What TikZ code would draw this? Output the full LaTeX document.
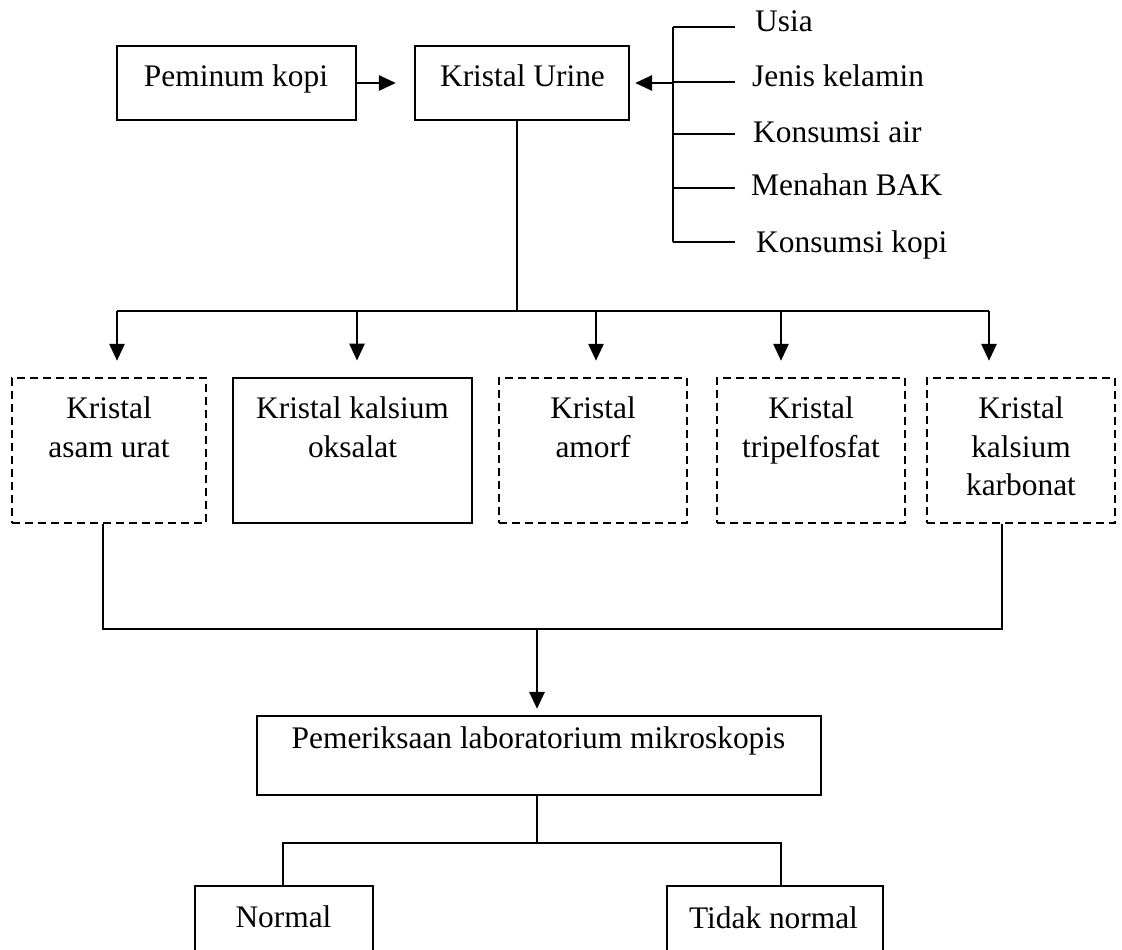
\documentclass[tikz,border=0pt]{standalone}
\usepackage{fontspec}
\setmainfont{Liberation Serif}
\usetikzlibrary{arrows.meta}
\begin{document}
\begin{tikzpicture}[x=1pt,y=-1pt,
  font=\fontsize{31.4}{38.5}\selectfont,
  box/.style={draw, line width=2.2pt, inner sep=0pt},
  dbox/.style={draw, line width=2.4pt, dash pattern=on 8pt off 5pt, inner sep=0pt},
  sbox/.style={draw, line width=2.8pt, inner sep=0pt},
  txt/.style={inner sep=0pt, align=center},
  thinline/.style={line width=1.4pt},
  arr/.style={line width=2.8pt, -{Triangle[length=17pt,width=15pt]}},
]
\useasboundingbox (0,0) rectangle (1122,950);
\clip (0,0) rectangle (1122,950);

% top row
\node[box, minimum width=239pt, minimum height=74pt] (pk) at (236.5,83) {};
\node[txt, anchor=base] (pkt) at (236,87) {Peminum kopi};
\node[box, minimum width=214pt, minimum height=74pt] (ku) at (522,83) {};
\node[txt, anchor=base] (kut) at (522.5,87) {Kristal Urine};
\draw[arr, shorten >=18pt] (pk.east) -- (ku.west);

% factors
\node[txt, anchor=base west] (f1) at (755,32) {Usia};
\node[txt, anchor=base west] (f2) at (752,87) {Jenis kelamin};
\node[txt, anchor=base west] (f3) at (753,142) {Konsumsi air};
\node[txt, anchor=base west] (f4) at (751,195) {Menahan BAK};
\node[txt, anchor=base west] (f5) at (756,252) {Konsumsi kopi};
\coordinate (t1) at (673,27);  \coordinate (e1) at (735,27);
\coordinate (t2) at (673,82);  \coordinate (e2) at (735,82);
\coordinate (t3) at (673,134); \coordinate (e3) at (735,134);
\coordinate (t4) at (673,188); \coordinate (e4) at (735,188);
\coordinate (t5) at (673,242); \coordinate (e5) at (735,242);
\draw[thinline] (t1) -- (t5);
\foreach \i in {1,...,5} { \draw[thinline] (t\i) -- (e\i); }
\coordinate (tj) at (673,83);
\draw[arr, shorten >=5pt] (tj) -- (ku.east);

% crystal boxes
\node[dbox, minimum width=194pt, minimum height=145pt] (b1) at (109,450.5) {};
\node[sbox, minimum width=239pt, minimum height=145pt] (b2) at (352.5,450.5) {};
\node[dbox, minimum width=188pt, minimum height=145pt] (b3) at (593,450.5) {};
\node[dbox, minimum width=188pt, minimum height=145pt] (b4) at (811,450.5) {};
\node[dbox, minimum width=188pt, minimum height=145pt] (b5) at (1021,450.5) {};
\node[txt, anchor=north, yshift=-20pt] (b1t) at (b1.north) {Kristal\\asam urat};
\node[txt, anchor=north, yshift=-20pt] (b2t) at (b2.north) {Kristal kalsium\\oksalat};
\node[txt, anchor=north, yshift=-20pt] (b3t) at (b3.north) {Kristal\\amorf};
\node[txt, anchor=north, yshift=-20pt] (b4t) at (b4.north) {Kristal\\tripelfosfat};
\node[txt, anchor=north, yshift=-20pt] (b5t) at (b5.north) {Kristal\\kalsium\\karbonat};

% distribution
\coordinate (j1) at (517,311);
\draw[thinline] (j1 |- ku.south) -- (j1);
\coordinate (a1) at (117,311);
\coordinate (a2) at (357,311);
\coordinate (a3) at (596,311);
\coordinate (a4) at (781,311);
\coordinate (a5) at (989,311);
\draw[thinline] (a1) -- (a5);
\draw[arr, shorten >=16pt] (a1) -- (a1 |- b1.north);
\draw[arr, shorten >=16pt] (a2) -- (a2 |- b2.north);
\draw[arr, shorten >=16pt] (a3) -- (a3 |- b3.north);
\draw[arr, shorten >=16pt] (a4) -- (a4 |- b4.north);
\draw[arr, shorten >=16pt] (a5) -- (a5 |- b5.north);

% exam
\node[box, minimum width=564pt, minimum height=79pt] (pem) at (539,755.5) {};
\node[txt, anchor=base] (pemt) at (538.5,748) {Pemeriksaan laboratorium mikroskopis};
\coordinate (cl) at (103,629);
\coordinate (cr) at (1002,629);
\coordinate (cm) at (537,629);
\draw[thinline] (cl |- b1.south) -- (cl) -- (cr) -- (cr |- b5.south);
\draw[arr, shorten >=6pt] (cm) -- (cm |- pem.north);

% results
\node[box, minimum width=178pt, minimum height=76pt] (nor) at (284,924) {};
\node[txt, anchor=base] (nort) at (283.5,927) {Normal};
\node[box, minimum width=216pt, minimum height=76pt] (tn) at (775,924) {};
\node[txt, anchor=base] (tnt) at (773.5,928) {Tidak normal};
\coordinate (pj) at (537,843);
\coordinate (nl) at (283,843);
\coordinate (nr) at (781,843);
\draw[thinline] (pj |- pem.south) -- (pj);
\draw[thinline] (nl |- nor.north) -- (nl) -- (nr) -- (nr |- tn.north);
\end{tikzpicture}
\end{document}
